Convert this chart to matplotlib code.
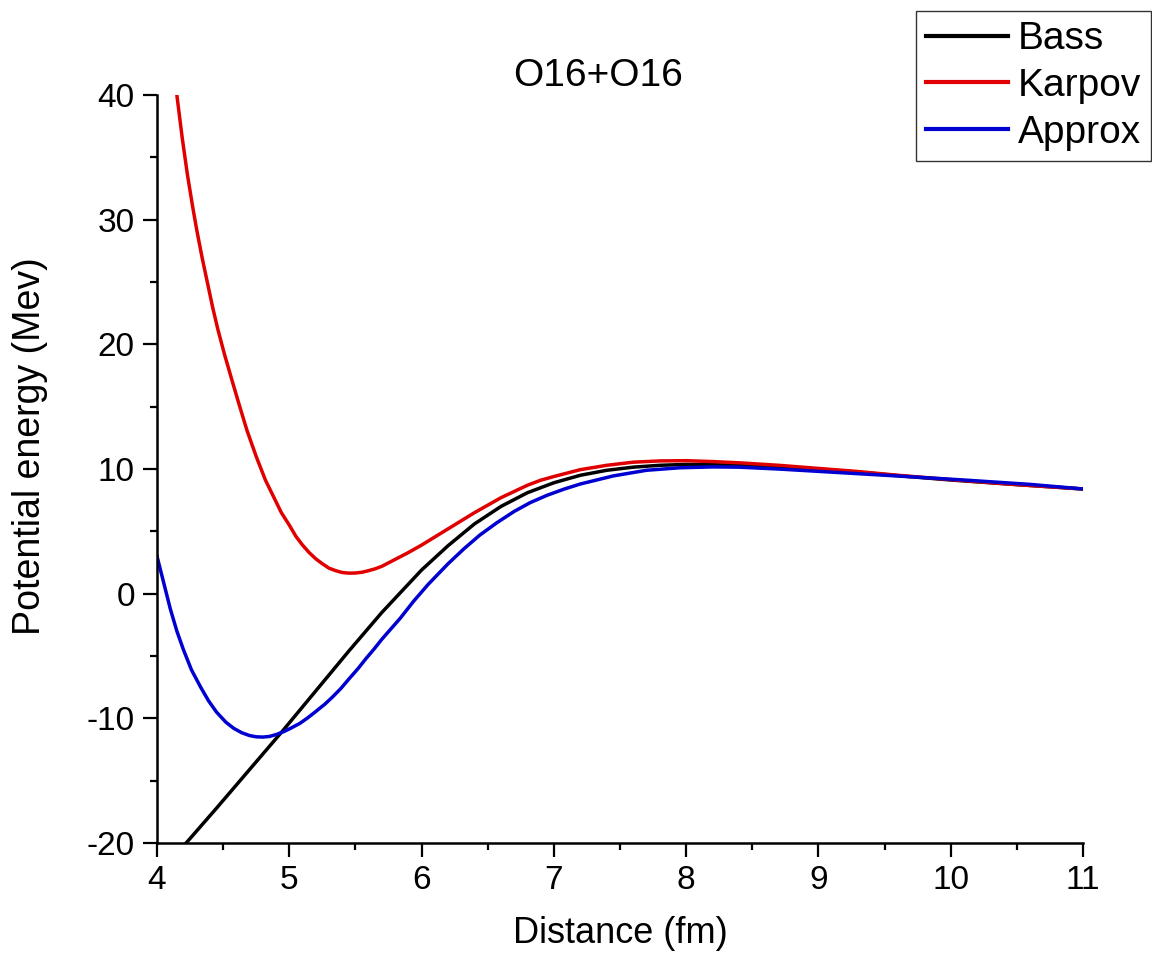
import matplotlib
matplotlib.use("Agg")
import matplotlib.pyplot as plt
from matplotlib.ticker import MultipleLocator

plt.rcParams['font.family'] = ['Liberation Sans', 'DejaVu Sans']
plt.rcParams['axes.unicode_minus'] = False

# values
bass_x = [4.22, 4.45, 4.7, 4.95, 5.2, 5.45, 5.7, 5.85, 6.0, 6.2, 6.4, 6.6, 6.8, 7.0,
          7.2, 7.4, 7.6, 7.8, 8.0, 8.2, 8.4, 8.7, 9.0, 9.3, 9.6, 10.0, 10.5, 11.0]
bass_y = [-20, -17.2, -14.1, -11.0, -7.8, -4.6, -1.5, 0.2, 1.9, 3.85, 5.6, 7.0, 8.1, 8.9,
          9.5, 9.9, 10.15, 10.3, 10.37, 10.35, 10.3, 10.15, 9.98, 9.75, 9.47, 9.12, 8.75, 8.4]

karpov_x = [4.15, 4.19, 4.23, 4.27, 4.30, 4.34, 4.38, 4.42, 4.46, 4.51, 4.57, 4.62, 4.68,
            4.75, 4.82, 4.88, 4.94, 5.0, 5.05, 5.1, 5.15, 5.2, 5.25, 5.3, 5.35, 5.4, 5.45,
            5.5, 5.55, 5.6, 5.65, 5.7, 5.8, 5.9, 6.0, 6.1, 6.2, 6.3, 6.4, 6.5, 6.6, 6.7,
            6.8, 6.9, 7.0, 7.2, 7.4, 7.6, 7.8, 8.0, 8.2, 8.4, 8.7, 9.0, 9.3, 9.6, 10.0,
            10.5, 11.0]
karpov_y = [40.0, 36.6, 33.6, 31.0, 29.2, 27.0, 25.0, 23.0, 21.2, 19.2, 17.0, 15.2, 13.1,
            11.0, 9.1, 7.8, 6.5, 5.5, 4.6, 3.9, 3.3, 2.8, 2.4, 2.05, 1.85, 1.7, 1.65,
            1.66, 1.72, 1.85, 2.0, 2.2, 2.75, 3.3, 3.9, 4.55, 5.2, 5.85, 6.5, 7.1, 7.7, 8.2,
            8.7, 9.1, 9.4, 9.95, 10.3, 10.55, 10.65, 10.67, 10.6, 10.5, 10.3, 10.05, 9.8,
            9.5, 9.15, 8.75, 8.4]

approx_x = [4.0, 4.05, 4.1, 4.15, 4.2, 4.26, 4.33, 4.39, 4.45, 4.52, 4.58, 4.64, 4.7,
            4.75, 4.8, 4.85, 4.9, 4.95, 5.0, 5.08, 5.14, 5.2, 5.27, 5.33, 5.39, 5.45,
            5.52, 5.58, 5.64, 5.7, 5.77, 5.84, 5.94, 6.05, 6.2, 6.32, 6.44, 6.57, 6.7,
            6.82, 6.95, 7.08, 7.2, 7.45, 7.7, 7.95, 8.2, 8.4, 8.7, 9.1, 9.6, 10.1, 10.6,
            11.0]
approx_y = [3.0, 0.9, -1.2, -3.0, -4.5, -6.1, -7.5, -8.6, -9.5, -10.3, -10.8, -11.15,
            -11.38, -11.48, -11.5, -11.45, -11.3, -11.1, -10.85, -10.4, -9.95, -9.45,
            -8.85, -8.25, -7.6, -6.85, -6.0, -5.2, -4.45, -3.65, -2.8, -1.95, -0.6, 0.75,
            2.4, 3.6, 4.7, 5.7, 6.6, 7.3, 7.9, 8.4, 8.8, 9.45, 9.9, 10.1, 10.17, 10.15,
            10.0, 9.75, 9.44, 9.12, 8.77, 8.4]

fig = plt.figure(figsize=(11.52, 9.58), dpi=100)
ax = fig.add_axes([0.1363, 0.12, 0.8038, 0.7808])

lw = 2.5
ax.plot(bass_x, bass_y, color='black', lw=lw, label='Bass')
ax.plot(karpov_x, karpov_y, color='#e00000', lw=lw, label='Karpov')
ax.plot(approx_x, approx_y, color='#0000d0', lw=lw, label='Approx')

ax.set_xlim(4, 11)
ax.set_ylim(-20, 40)
ax.xaxis.set_major_locator(MultipleLocator(1))
ax.xaxis.set_minor_locator(MultipleLocator(0.5))
ax.yaxis.set_major_locator(MultipleLocator(10))
ax.yaxis.set_minor_locator(MultipleLocator(5))

for side in ['top', 'right']:
    ax.spines[side].set_visible(False)
for side in ['left', 'bottom']:
    ax.spines[side].set_linewidth(1.8)

ax.tick_params(which='major', direction='out', length=10, width=1.6, labelsize=24, pad=6)
ax.tick_params(which='minor', direction='out', length=5, width=1.6)

ax.set_xlabel('Distance (fm)', fontsize=26)
ax.set_ylabel('Potential energy (Mev)', fontsize=27)
ax.xaxis.set_label_coords(0.5, -0.098)
ax.yaxis.set_label_coords(-0.118, 0.531)

fig.text(0.519, 0.921, 'O16+O16', fontsize=28, ha='center', va='center')

leg = ax.legend(loc='upper right', bbox_to_anchor=(0.999, 0.988),
                bbox_transform=fig.transFigure, fontsize=28, frameon=True,
                fancybox=False, handlelength=2.1, handletextpad=0.26,
                labelspacing=0.28, borderpad=0.25, borderaxespad=0)
leg.get_frame().set_edgecolor('black')
leg.get_frame().set_linewidth(1.0)
for line in leg.get_lines():
    line.set_linewidth(3)

fig.savefig('out.png', dpi=100, facecolor='white')
